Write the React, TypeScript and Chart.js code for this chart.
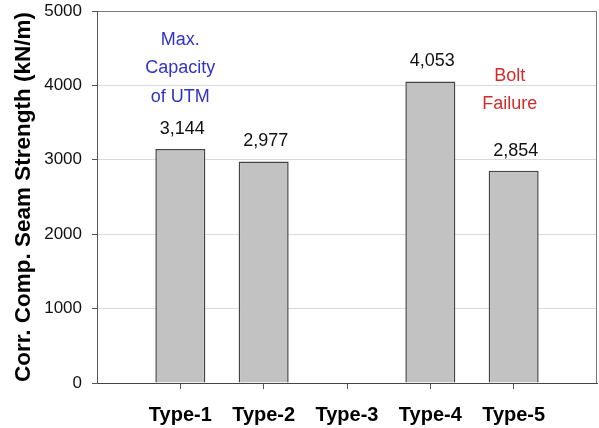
import React, { useEffect, useRef } from 'react';
import { Chart, registerables } from 'chart.js';

Chart.register(...registerables);

// ---- data ----
const categories = ['', 'Type-1', 'Type-2', 'Type-3', 'Type-4', 'Type-5', ''];
const strengthValues: (number | null)[] = [null, 3144, 2977, null, 4053, 2854, null];
const valueLabels = ['', '3,144', '2,977', '', '4,053', '2,854', ''];
const yMin = 0;
const yMax = 5000;
const yStep = 1000;
const yTitle = 'Corr. Comp. Seam Strength (kN/m)';
const noteCategories = [1, 5];
const noteLines = [['Max.', 'Capacity', 'of UTM'], ['Bolt', 'Failure']];
const noteValues = [[4610, 4234, 3844], [4126, 3750]];
const noteColors = ['#3232c8', '#d42a2a'];

const FONT = '"Liberation Sans", Arial, Helvetica, sans-serif';

const labelPlugin = {
  id: 'labelsAndBorder',
  beforeDatasetsDraw(chart: any) {
    const { ctx, chartArea } = chart;
    ctx.save();
    ctx.strokeStyle = '#7a7a7a';
    ctx.lineWidth = 1;
    ctx.beginPath();
    const rx = Math.round(chartArea.right) - 0.5;
    ctx.moveTo(rx, chartArea.top);
    ctx.lineTo(rx, chartArea.bottom);
    ctx.stroke();
    ctx.restore();
  },
  afterDatasetsDraw(chart: any) {
    const { ctx } = chart;
    const meta = chart.getDatasetMeta(0);
    const xs = chart.scales.x;
    const ys = chart.scales.y;
    ctx.save();
    ctx.textAlign = 'center';
    ctx.textBaseline = 'middle';
    ctx.font = `18px ${FONT}`;
    ctx.fillStyle = '#111';
    meta.data.forEach((bar: any, i: number) => {
      const v = strengthValues[i];
      if (v === null || v === undefined) return;
      ctx.fillText(valueLabels[i], bar.x + 2, bar.y - 20);
    });
    noteCategories.forEach((cat, n) => {
      ctx.fillStyle = noteColors[n];
      const x = xs.getPixelForValue(cat);
      noteLines[n].forEach((line, k) => {
        ctx.fillText(line, x - (n === 1 ? 4 : 0), ys.getPixelForValue(noteValues[n][k]));
      });
    });
    ctx.restore();
  },
};

export default function App() {
  const ref = useRef<HTMLCanvasElement | null>(null);
  useEffect(() => {
    if (!ref.current) return;
    const chart = new Chart(ref.current, {
      type: 'bar',
      data: {
        labels: categories,
        datasets: [
          {
            data: strengthValues as any,
            backgroundColor: '#c2c2c2',
            borderColor: '#444444',
            borderWidth: 1.5,
            borderSkipped: 'start',
            categoryPercentage: 1,
            barPercentage: 0.6,
          },
        ],
      },
      options: {
        responsive: false,
        animation: false,
        layout: { padding: { top: 11, right: 2, left: 0, bottom: 0 } },
        plugins: { legend: { display: false }, tooltip: { enabled: false } },
        scales: {
          x: {
            offset: false,
            grid: {
              display: true,
              offset: false,
              drawOnChartArea: false,
              drawTicks: true,
              tickLength: 6,
              color: (c: any) => (c.index === 0 || c.index === categories.length - 1 ? 'rgba(0,0,0,0)' : '#555'),
            },
            border: { display: true, color: '#444', width: 1 },
            ticks: {
              autoSkip: false,
              maxRotation: 0,
              padding: 14,
              color: '#000',
              font: { family: FONT, size: 20, weight: 'bold' },
            },
            afterFit: (s: any) => {
              s.height = 45;
              s.paddingLeft = 0;
              s.paddingRight = 0;
            },
          },
          y: {
            min: yMin,
            max: yMax,
            ticks: {
              stepSize: yStep,
              padding: 10,
              color: '#111',
              font: { family: FONT, size: 17 },
              callback: (v: any) => String(v),
            },
            grid: {
              color: (c: any) => (c.tick && c.tick.value === yMax ? '#7a7a7a' : '#dadada'),
              tickColor: '#555',
              tickLength: 5,
            },
            border: { display: true, color: '#555', width: 1 },
            title: {
              display: true,
              text: yTitle,
              color: '#000',
              font: { family: FONT, size: 22.5, weight: 'bold' },
              padding: { top: 10, bottom: 0 },
            },
            afterFit: (s: any) => {
              s.width = 97;
              s.paddingTop = 0;
              s.paddingBottom = 0;
            },
          },
        },
      },
      plugins: [labelPlugin],
    });
    return () => chart.destroy();
  }, []);
  return (
    <div style={{ position: 'absolute', left: 0, top: 0, width: 599, height: 428, background: '#fff' }}>
      <canvas ref={ref} width={599} height={428} />
    </div>
  );
}
